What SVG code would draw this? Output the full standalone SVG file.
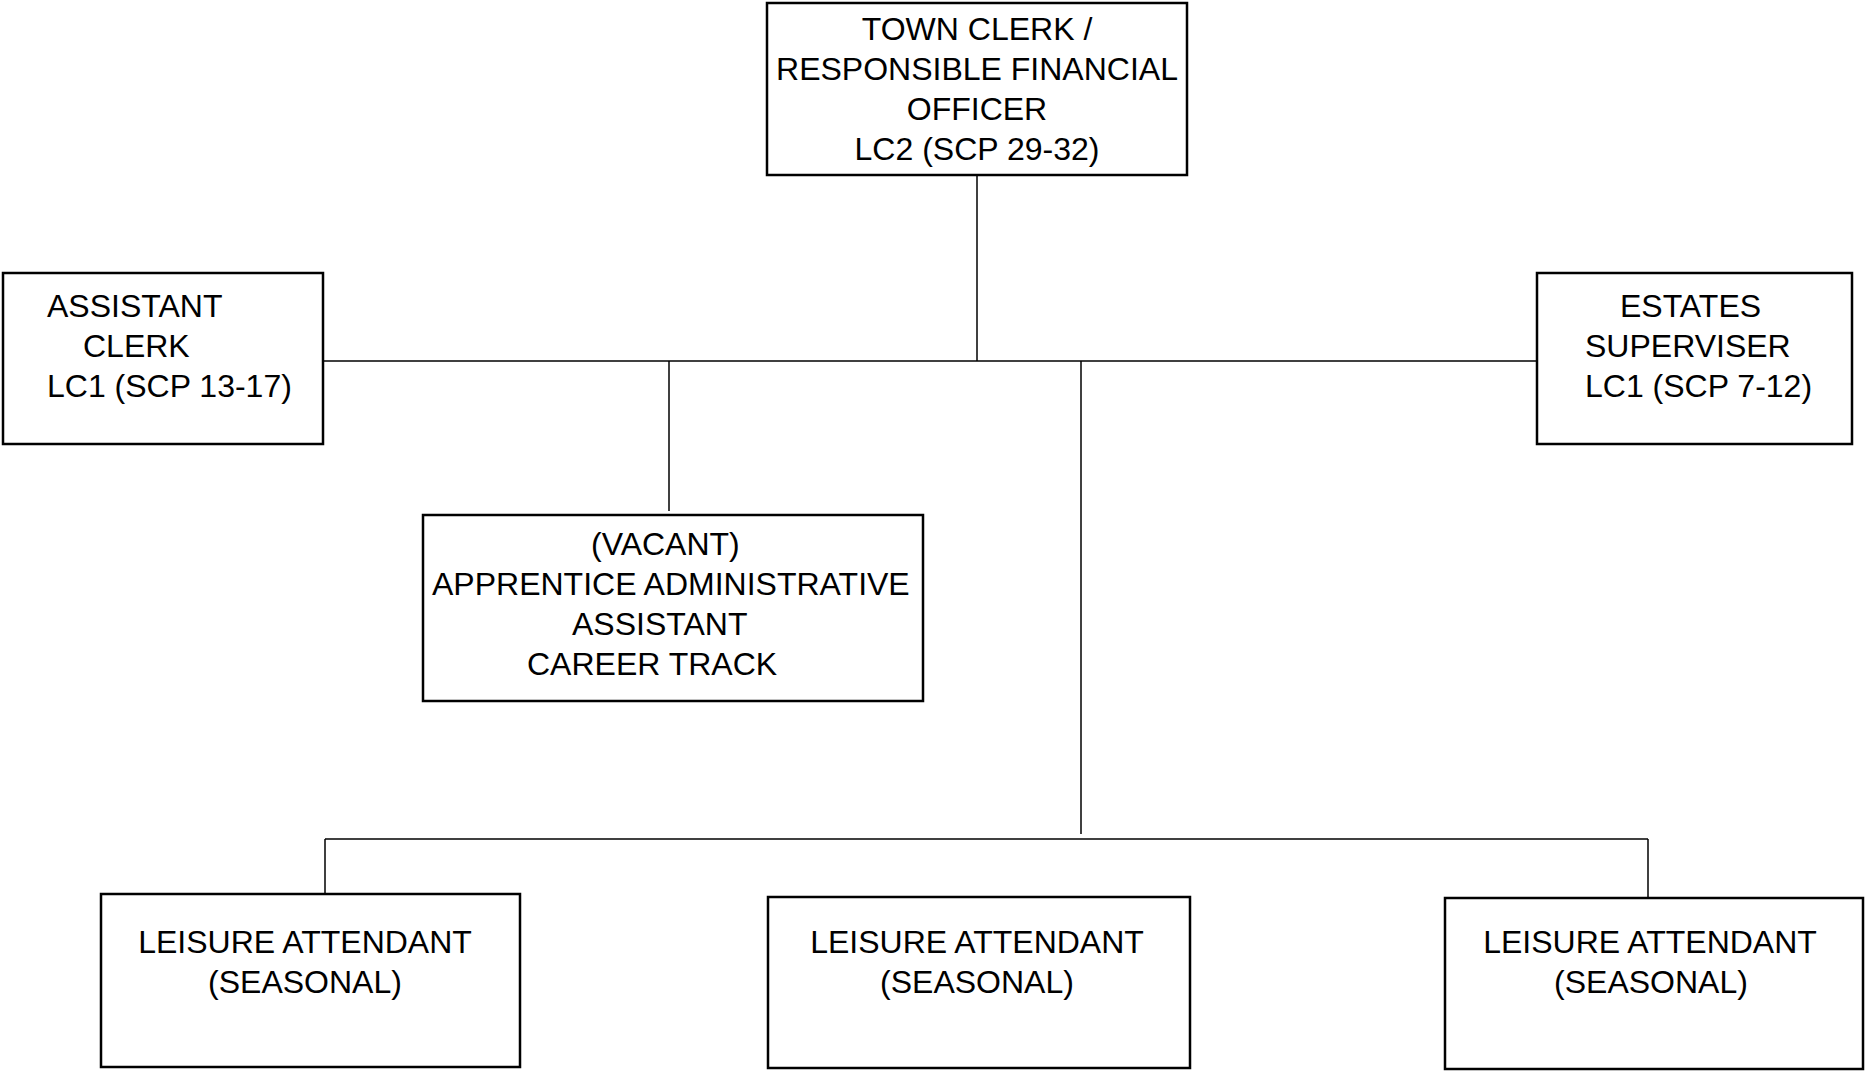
<svg xmlns="http://www.w3.org/2000/svg" width="1865" height="1071" viewBox="0 0 1865 1071">
<style>
  .box { fill: #ffffff; stroke: #000000; stroke-width: 2.5; }
  .conn { stroke: #000000; stroke-width: 1.5; fill: none; }
  text { font-family: "Liberation Sans", Arial, sans-serif; font-size: 32px; fill: #000000; }
  .c { text-anchor: middle; }
</style>
<rect width="1865" height="1071" fill="#ffffff"/>
<g id="connectors">
  <line class="conn" x1="977" y1="175" x2="977" y2="361"/>
  <line class="conn" x1="323" y1="361" x2="1537" y2="361"/>
  <line class="conn" x1="669" y1="361" x2="669" y2="511"/>
  <line class="conn" x1="1081" y1="361" x2="1081" y2="834"/>
  <line class="conn" x1="325" y1="839" x2="1648" y2="839"/>
  <line class="conn" x1="325" y1="839" x2="325" y2="894"/>
  <line class="conn" x1="1648" y1="839" x2="1648" y2="898"/>
</g>
<g id="town-clerk">
  <rect class="box" x="767" y="3" width="420" height="172"/>
  <text class="c" x="977" y="40">TOWN CLERK /</text>
  <text class="c" x="977" y="80">RESPONSIBLE FINANCIAL</text>
  <text class="c" x="977" y="120">OFFICER</text>
  <text class="c" x="977" y="160">LC2 (SCP 29-32)</text>
</g>
<g id="assistant-clerk">
  <rect class="box" x="3" y="273" width="320" height="171"/>
  <text x="47" y="317">ASSISTANT</text>
  <text x="83" y="357">CLERK</text>
  <text x="47" y="397">LC1 (SCP 13-17)</text>
</g>
<g id="estates-superviser">
  <rect class="box" x="1537" y="273" width="315" height="171"/>
  <text x="1620" y="317">ESTATES</text>
  <text x="1585" y="357">SUPERVISER</text>
  <text x="1585" y="397">LC1 (SCP 7-12)</text>
</g>
<g id="apprentice">
  <rect class="box" x="423" y="515" width="500" height="186"/>
  <text x="591" y="555">(VACANT)</text>
  <text x="432" y="595">APPRENTICE ADMINISTRATIVE</text>
  <text x="572" y="635">ASSISTANT</text>
  <text x="527" y="675">CAREER TRACK</text>
</g>
<g id="leisure-1">
  <rect class="box" x="101" y="894" width="419" height="173"/>
  <text class="c" x="305" y="953">LEISURE ATTENDANT</text>
  <text class="c" x="305" y="993">(SEASONAL)</text>
</g>
<g id="leisure-2">
  <rect class="box" x="768" y="897" width="422" height="171"/>
  <text class="c" x="977" y="953">LEISURE ATTENDANT</text>
  <text class="c" x="977" y="993">(SEASONAL)</text>
</g>
<g id="leisure-3">
  <rect class="box" x="1445" y="898" width="418" height="171"/>
  <text class="c" x="1650" y="953">LEISURE ATTENDANT</text>
  <text class="c" x="1651" y="993">(SEASONAL)</text>
</g>
</svg>
